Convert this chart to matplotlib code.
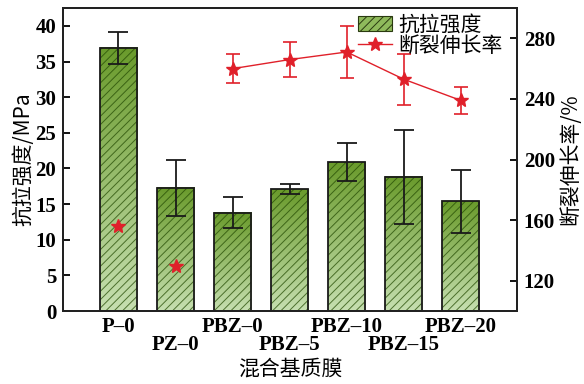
import numpy as np
import matplotlib
matplotlib.use("Agg")
import matplotlib.pyplot as plt
from matplotlib.colors import LinearSegmentedColormap
from matplotlib.font_manager import FontProperties
from matplotlib.patches import Patch
from matplotlib.lines import Line2D

# data
samples = ["P–0", "PZ–0", "PBZ–0", "PBZ–5", "PBZ–10", "PBZ–15", "PBZ–20"]
tensile = [36.9, 17.3, 13.8, 17.1, 20.9, 18.8, 15.4]
tensile_err = [2.3, 3.9, 2.2, 0.75, 2.7, 6.6, 4.4]
elong = [156, 130, 260, 266, 271, 253, 239]
elong_err = [0, 0, 9.5, 11.6, 17, 17, 8.9]

cjk = ["Noto Sans CJK SC", "DejaVu Sans"]
num_font = {"family": "Liberation Serif", "weight": "bold", "size": 15}

plt.rcParams["hatch.linewidth"] = 0.7

fig = plt.figure(figsize=(5.84, 3.84), dpi=100)
ax = fig.add_axes([0.108, 0.19, 0.777, 0.789])
ax2 = ax.twinx()

x = np.arange(len(samples))
w = 0.65
cmap = LinearSegmentedColormap.from_list("g", ["#c6dfb0", "#6a9b2c"])
grad = np.linspace(0, 1, 100).reshape(-1, 1)

for xi, h in zip(x, tensile):
    ax.imshow(grad, cmap=cmap, origin="lower", aspect="auto",
              extent=[xi - w / 2, xi + w / 2, 0, h], zorder=1)
ax.bar(x, tensile, w, facecolor="none", edgecolor=(0.15, 0.3, 0.02, 0.75),
       linewidth=0, hatch="////", zorder=2)
ax.bar(x, tensile, w, facecolor="none", edgecolor="#1a1a1a", linewidth=1.3, zorder=3)
ax.errorbar(x, tensile, yerr=tensile_err, fmt="none", ecolor="#1a1a1a",
            elinewidth=1.3, capsize=7, capthick=1.3, zorder=4)

red = "#e0202a"
ax2.plot(x[:2], elong[:2], linestyle="none", marker="*", color=red,
         markersize=10, zorder=5)
ax2.errorbar(x[2:], elong[2:], yerr=elong_err[2:], color=red, marker="*",
             markersize=10, linewidth=1.0, elinewidth=1.2, capsize=5,
             capthick=1.2, zorder=5)

ax.set_xlim(-0.97, 6.98)
ax.set_ylim(0, 42.5)
ax2.set_ylim(100, 300)
ax.set_yticks(range(0, 41, 5))
ax2.set_yticks(range(120, 281, 40))

# two staggered rows of category labels
ax.set_xticks(x[::2])
ax.set_xticklabels(samples[::2])
ax.set_xticks(x[1::2], minor=True)
ax.set_xticklabels(samples[1::2], minor=True)
fp = FontProperties(**num_font)
for lab in ax.get_xticklabels() + ax.get_xticklabels(minor=True):
    lab.set_fontproperties(fp)
for lab in ax.get_yticklabels() + ax2.get_yticklabels():
    lab.set_fontproperties(fp)

ax.tick_params(axis="x", which="major", length=0, pad=4)
ax.tick_params(axis="x", which="minor", length=0, pad=17)
ax.tick_params(axis="y", direction="in", length=5, width=1.3, pad=5)
ax2.tick_params(axis="y", direction="in", length=5, width=1.3, pad=5)

for a in (ax, ax2):
    for sp in a.spines.values():
        sp.set_linewidth(1.4)
        sp.set_color("#222222")

ax.set_ylabel("抗拉强度/MPa", family=cjk, fontsize=15, labelpad=1)
ax2.set_ylabel("断裂伸长率/%", family=cjk, fontsize=15, labelpad=3)
ax.set_xlabel("混合基质膜", family=cjk, fontsize=15, labelpad=2)

handles = [Patch(facecolor="#8fba5c", edgecolor="#2a3a10", hatch="////", linewidth=0.8),
           Line2D([], [], color=red, marker="*", markersize=10, linewidth=1.0)]
ax2.legend(handles, ["抗拉强度", "断裂伸长率"], loc="upper right",
           bbox_to_anchor=(1.0, 1.03), frameon=False, prop={"family": cjk, "size": 15},
           labelspacing=-0.05, handletextpad=0.3, borderpad=0.2, handlelength=1.6)

fig.savefig("out.png", dpi=100)
